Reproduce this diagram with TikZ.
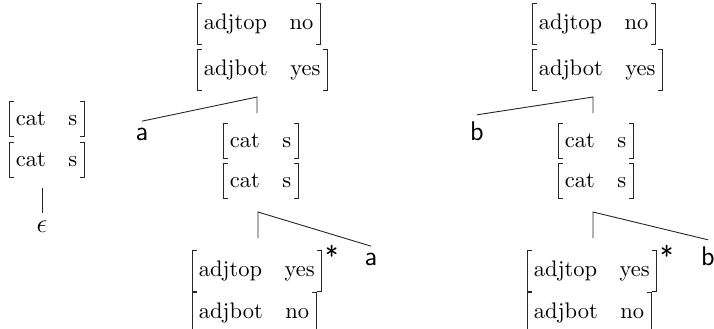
\documentclass[tikz,border=0pt]{standalone}
\usetikzlibrary{calc}
\tikzset{
  row/.style={anchor=north west, inner xsep=2.9pt, inner ysep=4.5pt},
  br/.style={line width=0.4pt, black!85},
  edge/.style={line width=0.4pt, black!85},
  leaf/.style={anchor=base, font=\sffamily\large, inner sep=2.67pt},
  starmark/.style={anchor=north west, font=\sffamily\large, inner sep=0pt},
}
\newcommand\bracketize[1]{%
  \draw[br] ([xshift=2pt]#1.north west) -| (#1.south west) -- ([xshift=2pt]#1.south west);
  \draw[br] ([xshift=-2pt]#1.north east) -| (#1.south east) -- ([xshift=-2pt]#1.south east);}
\begin{document}
\begin{tikzpicture}[x=0.4444pt,y=-0.4444pt]
\useasboundingbox (0,0) rectangle (714,328);
% ---------- left tree
\node[row] (L1) at (9,101) {cat\hspace{1em}s};
\node[row] (L2) at (9,142) {cat\hspace{1em}s};
\bracketize{L1}\bracketize{L2}
\node[anchor=base, inner sep=3pt, font=\large] (eps) at (42,232) {$\epsilon$};
\coordinate (Lp) at (42,188);
\draw[edge] (Lp) -- (eps.north);
% ---------- middle tree
\node[row] (M1) at (197,3) {adjtop\hspace{1em}no};
\node[row] (M2) at (197,49) {adjbot\hspace{1em}yes};
\bracketize{M1}\bracketize{M2}
\coordinate (Mp) at (257,97);
\coordinate (Mq) at (257,113);
\node[leaf] (Ma) at (142,140) {a};
\draw[edge] (Ma.north) -- (Mp) -- (Mq);
\node[row] (M3) at (223,123) {cat\hspace{1em}s};
\node[row] (M4) at (223,163) {cat\hspace{1em}s};
\bracketize{M3}\bracketize{M4}
\coordinate (Mr) at (258,212);
\coordinate (Ms) at (258,238);
\node[leaf] (Mb) at (371,265) {a};
\draw[edge] (Ms) -- (Mr) -- (Mb.north);
\node[row] (M5) at (192,250) {adjtop\hspace{1em}yes};
\node[row] (M6) at (192,292) {adjbot\hspace{1em}no};
\bracketize{M5}\bracketize{M6}
\node[starmark] (Mst) at ([xshift=1.3pt,yshift=2.2pt]M5.north east) {*};
% ---------- right tree
\node[row] (R1) at (532,3) {adjtop\hspace{1em}no};
\node[row] (R2) at (532,49) {adjbot\hspace{1em}yes};
\bracketize{R1}\bracketize{R2}
\coordinate (Rp) at (593,97);
\coordinate (Rq) at (593,113);
\node[leaf] (Ra) at (477,140) {b};
\draw[edge] (Ra.north) -- (Rp) -- (Rq);
\node[row] (R3) at (558,123) {cat\hspace{1em}s};
\node[row] (R4) at (558,163) {cat\hspace{1em}s};
\bracketize{R3}\bracketize{R4}
\coordinate (Rr) at (593,212);
\coordinate (Rs) at (593,238);
\node[leaf] (Rb) at (708,265) {b};
\draw[edge] (Rs) -- (Rr) -- (Rb.north);
\node[row] (R5) at (527,250) {adjtop\hspace{1em}yes};
\node[row] (R6) at (527,292) {adjbot\hspace{1em}no};
\bracketize{R5}\bracketize{R6}
\node[starmark] (Rst) at ([xshift=1.3pt,yshift=2.2pt]R5.north east) {*};
\end{tikzpicture}
\end{document}
